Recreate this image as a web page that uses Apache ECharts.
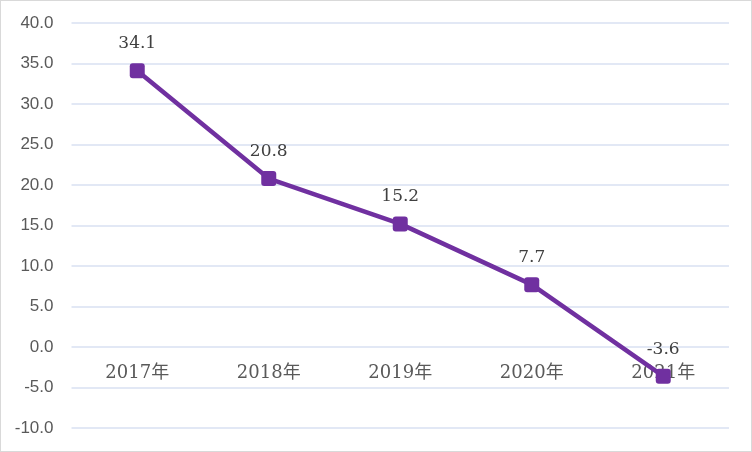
<!DOCTYPE html>
<html><head><meta charset="utf-8">
<script src="https://cdn.jsdelivr.net/npm/echarts@6/dist/echarts.min.js"></script>
<style>html,body{margin:0;padding:0;background:#fff}#c{width:750px;height:450px;border:1px solid #d9d9d9}</style>
</head><body><div id="c"></div>
<script>
const categories = ['2017年','2018年','2019年','2020年','2021年'];
const values = [34.1, 20.8, 15.2, 7.7, -3.6];
const yMin = -10, yMax = 40, yStep = 5;

const chart = echarts.init(document.getElementById('c'));
chart.setOption({
  animation: false,
  grid: {left: 70.5, right: 22, top: 22, bottom: 23, containLabel: false, outerBoundsMode: 'none'},
  xAxis: {
    type: 'category', data: categories, boundaryGap: true,
    offset: -81,
    axisLine: {show: false, onZero: false}, axisTick: {show: false},
    axisLabel: {margin: 17, color: '#595959', fontSize: 18, fontFamily: '"DejaVu Serif","Noto Sans CJK SC",serif'},
    splitLine: {show: false}
  },
  yAxis: {
    type: 'value', min: yMin, max: yMax, interval: yStep,
    axisLine: {show: false}, axisTick: {show: false},
    axisLabel: {margin: 18, color: '#595959', fontSize: 17, fontFamily: '"Liberation Sans","Noto Sans",sans-serif',
      formatter: v => v.toFixed(1)},
    splitLine: {lineStyle: {color: '#d9e1f2', width: 1.5}}
  },
  series: [{
    type: 'line', data: values,
    symbol: 'path://M2,0 H8 Q10,0 10,2 V8 Q10,10 8,10 H2 Q0,10 0,8 V2 Q0,0 2,0 Z',
    symbolSize: 15,
    lineStyle: {color: '#7030a0', width: 4.5},
    itemStyle: {color: '#7030a0'},
    label: {show: true, position: 'top', distance: 11, color: '#404040', fontSize: 17,
      fontFamily: '"DejaVu Serif","Liberation Serif",serif',
      formatter: p => p.value.toFixed(1)}
  }]
});
</script></body></html>
